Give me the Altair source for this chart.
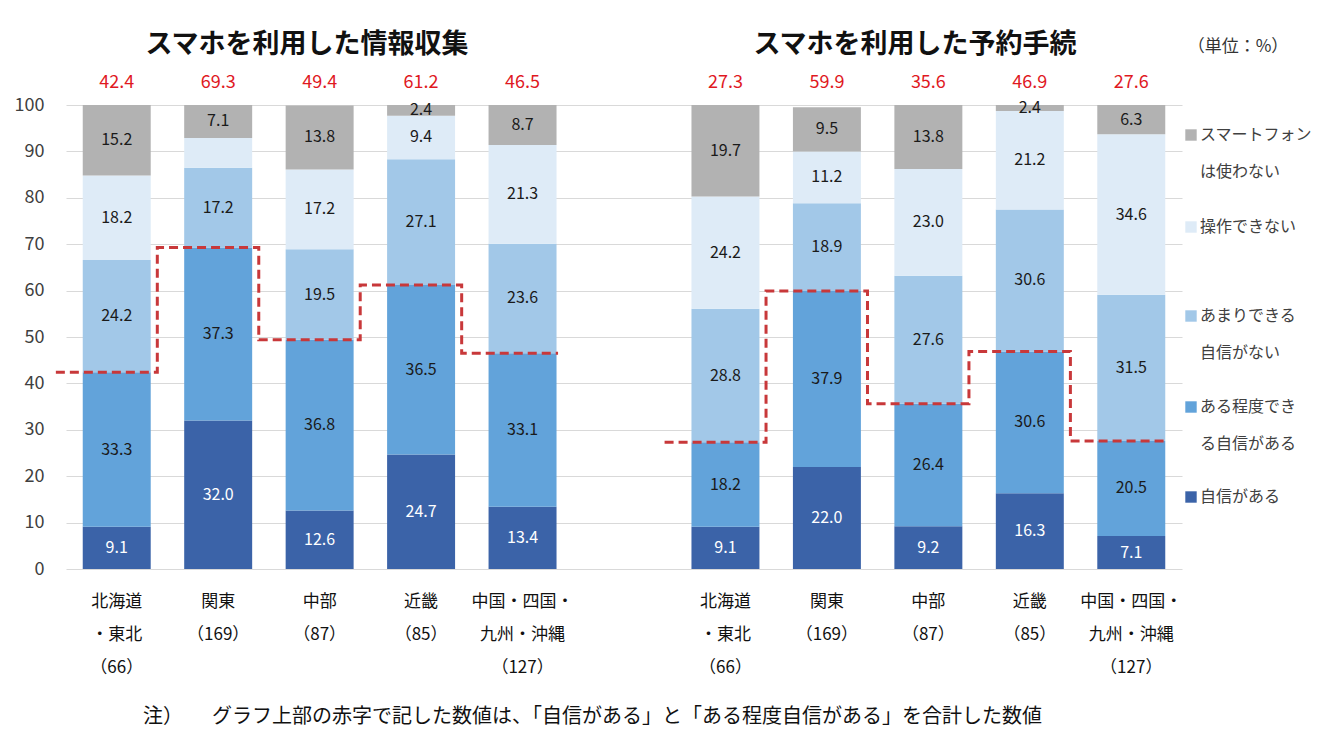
import altair as alt
import pandas as pd

FONT = "Noto Sans CJK JP"

# ---- data ----
REGION_LINES = [["北海道", "・東北", "（66）"], ["関東", "（169）"], ["中部", "（87）"],
                ["近畿", "（85）"], ["中国・四国・", "九州・沖縄", "（127）"]]
CATS = ["自信がある", "ある程度できる自信がある", "あまりできる自信がない", "操作できない", "スマートフォンは使わない"]
LEGEND_LINES = [["自信がある"], ["ある程度でき", "る自信がある"], ["あまりできる", "自信がない"],
                ["操作できない"], ["スマートフォン", "は使わない"]]
COLORS = ["#3b63a8", "#62a3da", "#a2c8e8", "#deebf7", "#b2b2b2"]

PANELS = ["スマホを利用した情報収集", "スマホを利用した予約手続"]

info_jishin = [9.1, 32.0, 12.6, 24.7, 13.4]
info_aruteido = [33.3, 37.3, 36.8, 36.5, 33.1]
info_amari = [24.2, 17.2, 19.5, 27.1, 23.6]
info_sousa = [18.2, 6.4, 17.2, 9.4, 21.3]
info_tsukawanai = [15.2, 7.1, 13.8, 2.4, 8.7]
info_total = [42.4, 69.3, 49.4, 61.2, 46.5]

res_jishin = [9.1, 22.0, 9.2, 16.3, 7.1]
res_aruteido = [18.2, 37.9, 26.4, 30.6, 20.5]
res_amari = [28.8, 18.9, 27.6, 30.6, 31.5]
res_sousa = [24.2, 11.2, 23.0, 21.2, 34.6]
res_tsukawanai = [19.7, 9.5, 13.8, 2.4, 6.3]
res_total = [27.3, 59.9, 35.6, 46.9, 27.6]

# segments without a printed value in the original
UNLABELED = {(0, 1, "操作できない")}

NOTE_HEAD = "注）"
NOTE_TEXT = "グラフ上部の赤字で記した数値は、「自信がある」と「ある程度自信がある」を合計した数値"
UNIT = "（単位：%）"

# ---- build tables ----
series = [
    [info_jishin, info_aruteido, info_amari, info_sousa, info_tsukawanai],
    [res_jishin, res_aruteido, res_amari, res_sousa, res_tsukawanai],
]
totals = [info_total, res_total]
SLOT0 = [0, 6]  # first slot of each panel

rows = []
for p in range(2):
    for r in range(5):
        cum = 0.0
        for c, cat in enumerate(CATS):
            v = series[p][c][r]
            lo, hi = cum, cum + v
            cum = hi
            rows.append({
                "panel": p, "pos": SLOT0[p] + r, "cat": cat, "val": v,
                "lo": lo, "hi": min(hi, 100.0),
                "mid": (lo + min(hi, 100.0)) / 2,
                "label": "" if (p, r, cat) in UNLABELED else f"{v:.1f}",
            })
bars = pd.DataFrame(rows)
bars["x1"] = bars["pos"] - 0.335
bars["x2"] = bars["pos"] + 0.335

tot_rows = []
step_rows = []
for p in range(2):
    for r in range(5):
        tot_rows.append({"pos": SLOT0[p] + r, "t": f"{totals[p][r]:.1f}",
                         "lines": REGION_LINES[r]})
    xs = [SLOT0[p] - 0.6] + [SLOT0[p] + r + 0.4 for r in range(4)] + [SLOT0[p] + 4.35]
    vs = totals[p] + [totals[p][-1]]
    for x, v in zip(xs, vs):
        step_rows.append({"panel": p, "x": x, "v": v})
tots = pd.DataFrame(tot_rows)
steps = pd.DataFrame(step_rows)

xscale = alt.Scale(domain=[-0.5, 10.5], nice=False, zero=False)
yscale = alt.Scale(domain=[0, 100], nice=False)

base_bars = alt.Chart(bars)
bar_layer = base_bars.mark_bar(clip=True).encode(
    x=alt.X("x1:Q", scale=xscale, axis=None),
    x2="x2:Q",
    y=alt.Y("lo:Q", scale=yscale, title=None,
            axis=alt.Axis(values=list(range(0, 101, 10)), labelFontSize=18,
                          labelColor="#404040", labelFont=FONT, domain=False,
                          ticks=False, grid=True, gridColor="#d9d9d9",
                          labelPadding=22)),
    y2="hi:Q",
    color=alt.Color("cat:N", scale=alt.Scale(domain=CATS, range=COLORS), legend=None),
)

seg_text = base_bars.mark_text(font=FONT, fontSize=16, baseline="middle").encode(
    x=alt.X("pos:Q", scale=xscale, axis=None),
    y=alt.Y("mid:Q", scale=yscale),
    text="label:N",
    color=alt.condition(alt.datum.cat == "自信がある", alt.value("white"), alt.value("#1a1a1a")),
)

step_line = alt.Chart(steps).mark_line(
    interpolate="step-after", color="#c8383a", strokeWidth=3, strokeDash=[9, 5]
).encode(
    x=alt.X("x:Q", scale=xscale, axis=None),
    y=alt.Y("v:Q", scale=yscale),
    detail="panel:N",
)

tot_text = alt.Chart(tots).mark_text(font=FONT, fontSize=18, color="#e0191f", dy=-22).encode(
    x=alt.X("pos:Q", scale=xscale, axis=None),
    y=alt.datum(100),
    text="t:N",
)

cat_text = alt.Chart(tots).mark_text(font=FONT, fontSize=17, color="#111111",
                                     baseline="middle", lineHeight=33).encode(
    x=alt.X("pos:Q", scale=xscale, axis=None),
    y=alt.value(497),
    text="lines:N",
)

titles = alt.Chart(pd.DataFrame({"t": PANELS, "px": [241, 849]})).mark_text(
    font=FONT, fontSize=27, fontWeight="bold", color="#111111", baseline="middle"
).encode(x=alt.X("px:Q", scale=None), y=alt.value(-60), text="t:N")

unit = alt.Chart(pd.DataFrame({"t": [UNIT]})).mark_text(
    font=FONT, fontSize=17, color="#333333", baseline="middle"
).encode(x=alt.value(1172), y=alt.value(-58), text="t:N")

note = alt.Chart(pd.DataFrame({"t": [NOTE_HEAD, NOTE_TEXT], "px": [77, 146]})).mark_text(
    font=FONT, fontSize=20, color="#111111", align="left", baseline="middle"
).encode(x=alt.X("px:Q", scale=None), y=alt.value(612), text="t:N")

# legend (top item first)
leg_y = [392, 302, 211, 122, 30]
leg = pd.DataFrame({"cat": CATS, "lines": LEGEND_LINES, "py": leg_y})
leg_sq = alt.Chart(leg).mark_square(size=130, opacity=1).encode(
    x=alt.value(1125), y=alt.Y("py:Q", scale=None),
    color=alt.Color("cat:N", scale=alt.Scale(domain=CATS, range=COLORS), legend=None),
)
leg_tx = alt.Chart(leg).mark_text(font=FONT, fontSize=16, color="#404040", align="left",
                                  baseline="middle", lineHeight=37).encode(
    x=alt.value(1134), y=alt.Y("py:Q", scale=None), text="lines:N",
)

chart = alt.layer(
    bar_layer, seg_text, step_line, tot_text, cat_text, titles, unit, note, leg_sq, leg_tx
).properties(
    width=1116, height=464,
    autosize=alt.AutoSizeParams(type="none"),
    padding={"left": 58, "top": 97, "right": 130, "bottom": 171},
).configure_view(stroke=None).resolve_scale(color="shared")

chart.save("out.html", embed_options={"renderer": "svg", "actions": False})
